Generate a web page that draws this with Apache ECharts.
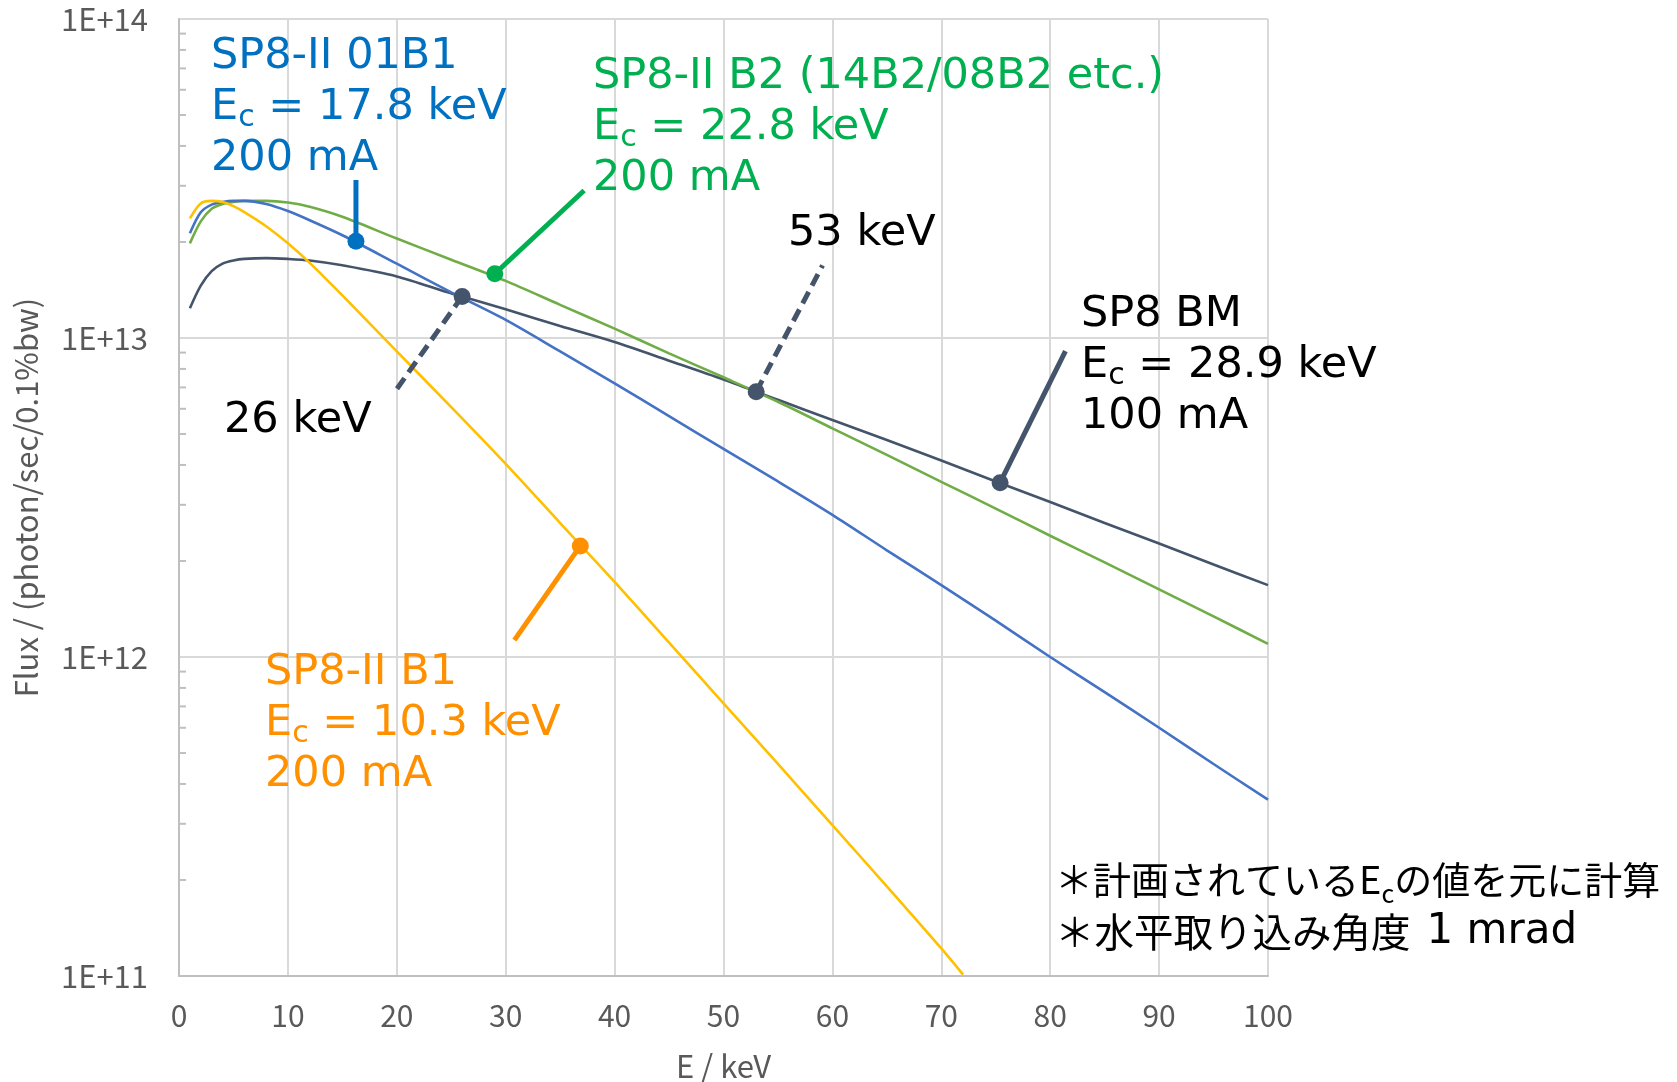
<!DOCTYPE html>
<html>
<head>
<meta charset="utf-8">
<script src="https://cdn.jsdelivr.net/npm/echarts@6/dist/echarts.min.js"></script>
<style>
    html, body {margin: 0; padding: 0; background: #fff;}
    #fluxGraph {width: 1677px; height: 1082px;}
</style>
</head>
<body>
<div id="fluxGraph"></div>
<script>
let fluxGraph = echarts.init(document.getElementById("fluxGraph"));

// E / keV
let energy = [1, 2, 3, 4, 5, 6, 8, 10, 12, 15, 20, 25, 30, 35, 40, 45, 50, 55, 60, 65, 70, 75, 80, 85, 90, 95, 100];
let energyB1 = [1, 2, 3, 4, 5, 6, 8, 10, 12, 15, 20, 25, 30, 35, 40, 45, 50, 55, 60, 65, 70, 72];

// Flux (photon/sec/0.1%bw)
let fluxB1 = [2.37e13, 2.64e13, 2.69e13, 2.67e13, 2.59e13, 2.48e13, 2.24e13, 1.98e13, 1.72e13, 1.36e13, 9.08e12, 6.07e12, 4.03e12, 2.63e12, 1.72e12, 1.11e12, 7.16e11, 4.62e11, 2.97e11, 1.91e11, 1.22e11, 1.01e11];
let flux01B1 = [2.13e13, 2.48e13, 2.62e13, 2.67e13, 2.69e13, 2.69e13, 2.63e13, 2.50e13, 2.34e13, 2.10e13, 1.71e13, 1.39e13, 1.14e13, 9.08e12, 7.21e12, 5.69e12, 4.49e12, 3.55e12, 2.79e12, 2.16e12, 1.68e12, 1.30e12, 1.00e12, 7.76e11, 6.00e11, 4.62e11, 3.57e11];
let fluxB2 = [1.98e13, 2.32e13, 2.54e13, 2.63e13, 2.67e13, 2.69e13, 2.69e13, 2.66e13, 2.58e13, 2.40e13, 2.05e13, 1.76e13, 1.51e13, 1.27e13, 1.07e13, 8.95e12, 7.53e12, 6.31e12, 5.21e12, 4.30e12, 3.54e12, 2.92e12, 2.40e12, 1.98e12, 1.63e12, 1.34e12, 1.10e12];
let fluxBM = [1.24e13, 1.46e13, 1.62e13, 1.71e13, 1.75e13, 1.77e13, 1.78e13, 1.77e13, 1.75e13, 1.69e13, 1.56e13, 1.38e13, 1.23e13, 1.09e13, 9.71e12, 8.49e12, 7.41e12, 6.40e12, 5.53e12, 4.79e12, 4.13e12, 3.55e12, 3.06e12, 2.63e12, 2.27e12, 1.95e12, 1.68e12];

// 注記の引き出し線 [マーカー点, 線の端]
let ptr01B1 = [[16.25, 2.01e13], [16.25, 3.13e13]];
let ptrB2 = [[29.0, 1.59e13], [37.2, 2.90e13]];
let ptr26 = [[26.0, 1.35e13], [19.9, 6.84e12]];
let ptr53 = [[53.0, 6.78e12], [59.1, 1.69e13]];
let ptrBM = [[75.4, 3.52e12], [81.4, 9.1e12]];
let ptrB1 = [[36.85, 2.23e12], [30.8, 1.13e12]];

// 補助目盛
let minorMultiples = [2, 3, 4, 5, 6, 7, 8, 9];
let decades = [1e11, 1e12, 1e13];
let minorTicks = [];
decades.forEach(function (d) {
    minorMultiples.forEach(function (m) {minorTicks.push([0, m * d]);});
});

function pairs(xs, ys) {
    return xs.map(function (x, i) {return [x, ys[i]];});
}

function curve(name, xs, ys, color) {
    return {
        name: name,
        type: 'line',
        data: pairs(xs, ys),
        smooth: 0.3,
        showSymbol: false,
        color: color,
        lineStyle: {width: 2.6, color: color},
        z: 2
    };
}

function pointer(p, color, dashed) {
    return {
        type: 'line',
        silent: true,
        data: [
            {value: p[0], symbol: 'circle', symbolSize: 17},
            {value: p[1], symbol: 'none'}
        ],
        showSymbol: true,
        itemStyle: {color: color},
        lineStyle: {width: 5, color: color, type: dashed ? [13, 7] : 'solid', cap: 'butt'},
        z: 5
    };
}

const TXT = '"DejaVu Sans"';

function label(x, y, text, color) {
    return {
        type: 'text',
        x: x,
        y: y,
        z: 10,
        style: {
            text: text,
            fill: color,
            font: '43px ' + TXT,
            lineHeight: 51,
            verticalAlign: 'top',
            rich: {
                sub: {fill: color, fontSize: 30, fontFamily: 'DejaVu Sans', lineHeight: 20, verticalAlign: 'bottom'}
            }
        }
    };
}

let option = {
    animation: false,
    backgroundColor: '#fff',
    grid: {left: 179, right: 409, top: 19, bottom: 106, containLabel: false, outerBoundsMode: 'none'},
    xAxis: {
        type: 'value',
        min: 0,
        max: 100,
        interval: 10,
        name: 'E / keV',
        nameLocation: 'middle',
        nameGap: 75,
        nameTextStyle: {color: '#595959', fontSize: 31, fontFamily: 'Noto Sans CJK JP'},
        axisLine: {lineStyle: {color: '#BFBFBF', width: 2}},
        axisTick: {show: false},
        axisLabel: {color: '#595959', fontSize: 30, margin: 25, fontFamily: 'Noto Sans CJK JP'},
        splitLine: {lineStyle: {color: '#D9D9D9', width: 2}}
    },
    yAxis: {
        type: 'log',
        logBase: 10,
        min: 1e11,
        max: 1e14,
        name: 'Flux / (photon/sec/0.1%bw)',
        nameLocation: 'middle',
        nameRotate: 90,
        nameGap: 137,
        nameTextStyle: {color: '#595959', fontSize: 31, fontFamily: 'Noto Sans CJK JP'},
        axisLine: {show: true, lineStyle: {color: '#BFBFBF', width: 2}},
        axisTick: {show: false},
        axisLabel: {
            color: '#595959',
            fontSize: 31,
            margin: 31,
            fontFamily: 'Noto Sans CJK JP',
            formatter: function (v) {return '1E+' + Math.round(Math.log10(v));}
        },
        splitLine: {lineStyle: {color: '#D9D9D9', width: 2}}
    },
    series: [
        {
            type: 'custom',
            silent: true,
            clip: false,
            data: minorTicks,
            renderItem: function (params, api) {
                let p = api.coord([api.value(0), api.value(1)]);
                return {
                    type: 'line',
                    shape: {x1: p[0], y1: p[1], x2: p[0] + 7, y2: p[1]},
                    style: {stroke: '#BFBFBF', lineWidth: 2}
                };
            },
            z: 1
        },
        curve('SP8 BM', energy, fluxBM, '#44546A'),
        curve('SP8-II B2', energy, fluxB2, '#70AD47'),
        curve('SP8-II 01B1', energy, flux01B1, '#4472C4'),
        curve('SP8-II B1', energyB1, fluxB1, '#FFC000'),
        pointer(ptr01B1, '#0070C0', false),
        pointer(ptrB2, '#00B050', false),
        pointer(ptr26, '#44546A', true),
        pointer(ptr53, '#44546A', true),
        pointer(ptrBM, '#44546A', false),
        pointer(ptrB1, '#FF9000', false)
    ],
    graphic: [
        label(211, 31, 'SP8-II 01B1\nE{sub|c} = 17.8 keV\n200 mA', '#0070C0'),
        label(593, 51, 'SP8-II B2 (14B2/08B2 etc.)\nE{sub|c} = 22.8 keV\n200 mA', '#00B050'),
        label(1081, 289, 'SP8 BM\nE{sub|c} = 28.9 keV\n100 mA', '#000000'),
        label(265, 647, 'SP8-II B1\nE{sub|c} = 10.3 keV\n200 mA', '#FF9000'),
        label(224, 395, '26 keV', '#000000'),
        label(788, 208, '53 keV', '#000000'),
        {
            type: 'text',
            x: 1055,
            y: 854,
            z: 10,
            style: {
                text: '＊計画されているE{sub|c}の値を元に計算\n{l2|＊水平取り込み角度}{lat|1 mrad}',
                fill: '#000000',
                font: '38px "Noto Sans CJK JP"',
                lineHeight: 52,
                verticalAlign: 'top',
                rich: {
                    sub: {fill: '#000000', fontSize: 25, fontFamily: 'Noto Sans CJK JP', lineHeight: 18, verticalAlign: 'bottom'},
                    l2: {fill: '#000000', fontSize: 39.5, fontFamily: 'Noto Sans CJK JP', lineHeight: 52},
                    lat: {fill: '#000000', fontSize: 42, fontFamily: 'DejaVu Sans', lineHeight: 52, padding: [0, 0, 0, 16]}
                }
            }
        }
    ]
};
fluxGraph.setOption(option);
window.addEventListener('resize', function () {fluxGraph.resize();});
</script>
</body>
</html>
